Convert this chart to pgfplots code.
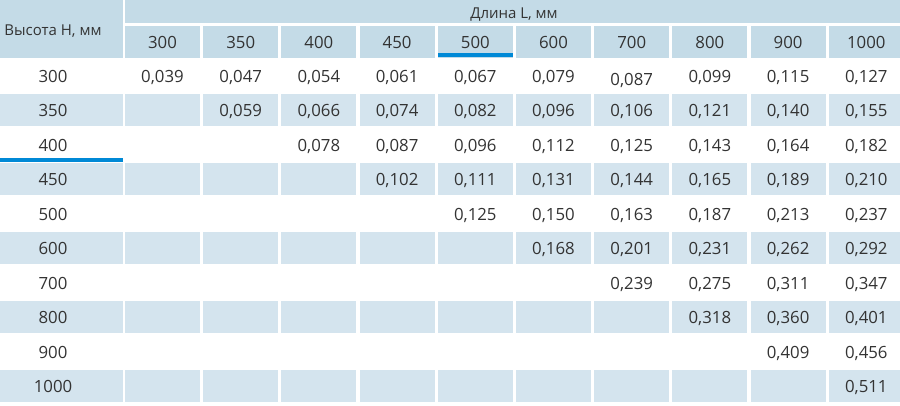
\documentclass[border=0pt]{standalone}
\usepackage{pgfplots}
\pgfplotsset{compat=1.18}
\usepackage{pgfplotstable}
\usepackage{fontspec}
\setmainfont{Open Sans}
\definecolor{hdr}{RGB}{196,219,231}
\definecolor{rowb}{RGB}{212,228,238}
\definecolor{accent}{RGB}{0,137,214}
\definecolor{txt}{RGB}{51,51,51}

% k = column index (L), i = row index (H), v = value
\pgfplotstableread{
k i v
0 0 0.039
1 0 0.047
2 0 0.054
3 0 0.061
4 0 0.067
5 0 0.079
6 0.09 0.087
7 0 0.099
8 0 0.115
9 0 0.127
1 1 0.059
2 1 0.066
3 1 0.074
4 1 0.082
5 1 0.096
6 1 0.106
7 1 0.121
8 1 0.140
9 1 0.155
2 2 0.078
3 2 0.087
4 2 0.096
5 2 0.112
6 2 0.125
7 2 0.143
8 2 0.164
9 2 0.182
3 3 0.102
4 3 0.111
5 3 0.131
6 3 0.144
7 3 0.165
8 3 0.189
9 3 0.210
4 4 0.125
5 4 0.150
6 4 0.163
7 4 0.187
8 4 0.213
9 4 0.237
5 5 0.168
6 5 0.201
7 5 0.231
8 5 0.262
9 5 0.292
6 6 0.239
7 6 0.275
8 6 0.311
9 6 0.347
7 7 0.318
8 7 0.360
9 7 0.401
8 8 0.409
9 8 0.456
9 9 0.511
}\vals

\begin{document}
\begin{tikzpicture}[
  lbl/.style={font=\fontsize{16.8}{20}\selectfont, text=txt, anchor=center,
              text height=12pt, text depth=0pt, inner sep=0pt},
  wlbl/.style={font=\fontsize{15}{18}\selectfont, text=txt, anchor=center,
              text height=10.7pt, text depth=0pt, inner sep=0pt}]
\begin{axis}[
  width=900pt, height=405pt, scale only axis,
  xmin=0, xmax=900, ymin=0, ymax=405, y dir=reverse,
  axis line style={draw=none}, xtick=\empty, ytick=\empty,
  clip=true, unbounded coords=jump,
]
% header backgrounds
\addplot[fill=hdr, draw=none, mark=none] coordinates {(0,0)(123,0)(123,58)(0,58)};
\addplot[fill=hdr, draw=none, mark=none] coordinates {(125,0)(904,0)(904,58)(125,58)};
% shaded rows (350, 450, 600, 800, 1000)
\addplot[fill=rowb, draw=none, mark=none] coordinates {(0,94)(904,94)(904,125.5)(0,125.5)};
\addplot[fill=rowb, draw=none, mark=none] coordinates {(0,163)(904,163)(904,194.5)(0,194.5)};
\addplot[fill=rowb, draw=none, mark=none] coordinates {(0,232)(904,232)(904,263.5)(0,263.5)};
\addplot[fill=rowb, draw=none, mark=none] coordinates {(0,301)(904,301)(904,332.5)(0,332.5)};
\addplot[fill=rowb, draw=none, mark=none] coordinates {(0,370)(904,370)(904,401.5)(0,401.5)};
% white gaps
\addplot[draw=white, line width=3pt, mark=none] coordinates {(125,24.5)(904,24.5)};
\addplot[draw=white, line width=2pt, mark=none] coordinates {(124,0)(124,405)};
\addplot[draw=white, line width=3.2pt, mark=none] coordinates {
 (201.6,23)(201.6,405) (0,nan)
 (279.8,23)(279.8,405) (0,nan)
 (358,23)(358,405) (0,nan)
 (436.2,23)(436.2,405) (0,nan)
 (514.4,23)(514.4,405) (0,nan)
 (592.6,23)(592.6,405) (0,nan)
 (670.8,23)(670.8,405) (0,nan)
 (749,23)(749,405) (0,nan)
 (827.2,23)(827.2,405)};
% accent underlines
\addplot[fill=accent, draw=none, mark=none] coordinates {(437.8,52.5)(512.8,52.5)(512.8,56.5)(437.8,56.5)};
\addplot[fill=accent, draw=none, mark=none] coordinates {(0,157.5)(123,157.5)(123,161.5)(0,161.5)};
% values
\addplot[draw=none, mark=none, point meta=explicit,
  nodes near coords={\pgfmathprintnumber[fixed, fixed zerofill, precision=3, use comma, assume math mode=true]{\pgfplotspointmeta}},
  nodes near coords align={center},
  every node near coord/.append style={lbl}]
  table[x expr={162.5+78.2*\thisrow{k}}, y expr={76+34.5*\thisrow{i}}, meta=v] {\vals};
% header texts
\node[wlbl] at (53,30) {Высота H, мм};
\node[wlbl] at (514,13) {Длина L, мм};
\node[lbl] at (162.5,42) {300};
\node[lbl] at (240.7,42) {350};
\node[lbl] at (318.9,42) {400};
\node[lbl] at (397.1,42) {450};
\node[lbl] at (475.3,42) {500};
\node[lbl] at (553.5,42) {600};
\node[lbl] at (631.7,42) {700};
\node[lbl] at (709.9,42) {800};
\node[lbl] at (788.1,42) {900};
\node[lbl] at (866.3,42) {1000};
% row labels
\node[lbl] at (53,76) {300};
\node[lbl] at (53,110.5) {350};
\node[lbl] at (53,145) {400};
\node[lbl] at (53,179.5) {450};
\node[lbl] at (53,214) {500};
\node[lbl] at (53,248.5) {600};
\node[lbl] at (53,283) {700};
\node[lbl] at (53,317.5) {800};
\node[lbl] at (53,352) {900};
\node[lbl] at (53,386.5) {1000};
\end{axis}
\end{tikzpicture}
\end{document}
